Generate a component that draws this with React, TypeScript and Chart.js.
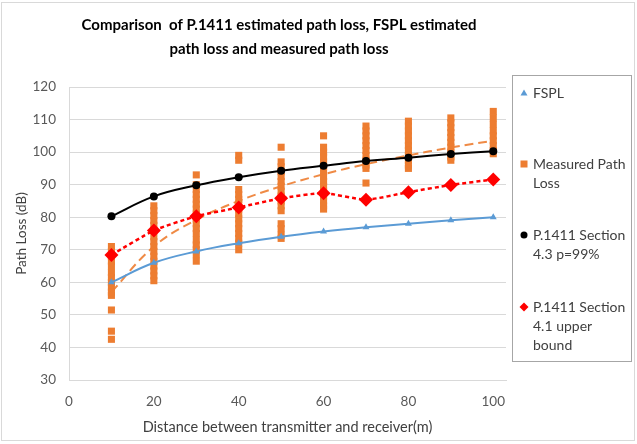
import React, { useEffect, useRef } from 'react';
import { Chart, registerables } from 'chart.js';

Chart.register(...registerables);

// ---------------- data ----------------
const distances = [10, 20, 30, 40, 50, 60, 70, 80, 90, 100];
const fsplLoss = [60, 66, 69.5, 72, 74, 75.6, 76.9, 78, 79.1, 80];
const p1411Sec43 = [80.3, 86.4, 89.8, 92.3, 94.3, 95.8, 97.3, 98.3, 99.4, 100.3];
const p1411Sec41 = [68.4, 75.9, 80.3, 83.0, 85.8, 87.4, 85.4, 87.7, 89.9, 91.6];
const measuredTrend = [57, 71, 79.2, 85, 89.5, 93.2, 96.3, 99, 101.4, 103.5];

const measuredAt10 = [71, 69.5, 68, 66.5, 65, 63, 61.5, 60, 58.5, 57, 56, 51.5, 45, 42.5];
const measuredAt20 = [83.5, 82, 80.5, 79, 77.5, 76, 74, 72.5, 71, 69.5, 68, 66.5, 65, 63.5, 62, 60.5];
const measuredAt30 = [93, 90, 88.5, 87, 85.5, 84, 82.5, 81, 79.5, 78, 76.5, 75, 73, 71.5, 70, 68.5, 66.5];
const measuredAt40 = [99, 97.5, 88.5, 87, 85.5, 84, 82.5, 81, 79.5, 78, 76.5, 75, 73.5, 72, 70];
const measuredAt50 = [101.5, 97, 95.5, 94, 92.5, 91, 89.5, 88, 86.5, 85, 83.5, 82, 78, 76.5, 74.5, 73.5];
const measuredAt60 = [105, 101.5, 100, 98.5, 97, 95.5, 94, 92.5, 91, 89.5, 88, 86.5, 85, 83.5, 82.5];
const measuredAt70 = [108, 106.5, 105, 103.5, 102, 100.5, 99, 97.5, 96, 95, 90.5];
const measuredAt80 = [109.5, 108, 106.5, 105, 103.5, 102, 100.5, 99, 97.5, 96, 95];
const measuredAt90 = [110.5, 109, 107.5, 106, 104.5, 103, 101.5, 100, 98.5, 97.5];
const measuredAt100 = [112.5, 110.5, 108.5, 106.5, 105, 103.5, 102, 100.5, 99.5];

const measuredColumns = [
  measuredAt10, measuredAt20, measuredAt30, measuredAt40, measuredAt50,
  measuredAt60, measuredAt70, measuredAt80, measuredAt90, measuredAt100,
];

const yTicksMin = 30;
const yTicksMax = 120;
const xTicksMin = 0;
const xTicksMax = 103;
const xTickValues = [0, 20, 40, 60, 80, 100];

const titleLines = ['Comparison  of P.1411 estimated path loss, FSPL estimated', 'path loss and measured path loss'];
const yTitle = 'Path Loss (dB)';
const xTitle = 'Distance between transmitter and receiver(m)';
const legendFspl = ['FSPL'];
const legendMeasured = ['Measured Path', 'Loss'];
const legendSec43 = ['P.1411 Section', '4.3 p=99%'];
const legendSec41 = ['P.1411 Section', '4.1 upper', 'bound'];

// ---------------- styles ----------------
const FONT = 'Lato, "Open Sans", sans-serif';
const BLUE = '#5B9BD5';
const ORANGE = '#ED7D31';
const RED = '#FF0000';
const GRID = '#D9D9D9';

const toXY = (ys: number[]) => ys.map((y, i) => ({ x: distances[i], y }));

const decorPlugin = {
  id: 'decor',
  afterDraw(chart: any) {
    const ctx = chart.ctx as CanvasRenderingContext2D;
    ctx.save();
    // chart border
    ctx.strokeStyle = GRID;
    ctx.lineWidth = 1;
    ctx.strokeRect(1.5, 2.5, 633, 438);

    // title
    ctx.fillStyle = '#000';
    ctx.font = `bold 15px ${FONT}`;
    ctx.textAlign = 'center';
    ctx.textBaseline = 'middle';
    ctx.fillText(titleLines[0], 279, 25);
    ctx.fillText(titleLines[1], 279, 49);

    // legend box
    ctx.strokeStyle = '#A6A6A6';
    ctx.strokeRect(512.5, 75.5, 119, 286);

    const mx = 524;
    const tx = 533;
    ctx.font = `14px ${FONT}`;
    ctx.textAlign = 'left';
    const lh = 19;
    const entry = (lines: string[], y: number, marker: (x: number, y: number) => void) => {
      marker(mx, y);
      ctx.fillStyle = '#404040';
      lines.forEach((t, i) => ctx.fillText(t, tx, y + i * lh));
    };
    entry(legendFspl, 93, (x, y) => {
      ctx.fillStyle = BLUE;
      ctx.beginPath();
      ctx.moveTo(x, y - 3.5);
      ctx.lineTo(x + 3.5, y + 2.5);
      ctx.lineTo(x - 3.5, y + 2.5);
      ctx.closePath();
      ctx.fill();
    });
    entry(legendMeasured, 164, (x, y) => {
      ctx.fillStyle = ORANGE;
      ctx.fillRect(x - 3.5, y - 3.5, 7, 7);
    });
    entry(legendSec43, 235, (x, y) => {
      ctx.fillStyle = '#000';
      ctx.beginPath();
      ctx.arc(x, y, 3.5, 0, Math.PI * 2);
      ctx.fill();
    });
    entry(legendSec41, 307, (x, y) => {
      ctx.fillStyle = RED;
      ctx.beginPath();
      ctx.moveTo(x, y - 4.5);
      ctx.lineTo(x + 4.5, y);
      ctx.lineTo(x, y + 4.5);
      ctx.lineTo(x - 4.5, y);
      ctx.closePath();
      ctx.fill();
    });
    ctx.restore();
  },
};

export default function App() {
  const ref = useRef<HTMLCanvasElement | null>(null);

  useEffect(() => {
    document.body.style.margin = '0';
    const canvas = ref.current;
    if (!canvas) return;

    const measuredPoints: { x: number; y: number }[] = [];
    measuredColumns.forEach((col, i) => col.forEach((y) => measuredPoints.push({ x: distances[i], y })));

    const chart = new Chart(canvas, {
      type: 'scatter',
      data: {
        datasets: [
          {
            label: 'P.1411 Section 4.1 upper bound',
            data: toXY(p1411Sec41),
            showLine: true,
            borderColor: RED,
            backgroundColor: RED,
            borderWidth: 2.5,
            borderDash: [4, 3],
            tension: 0.2,
            pointStyle: 'rectRot',
            pointRadius: 7,
            pointBorderWidth: 0,
            order: 1,
          },
          {
            label: 'P.1411 Section 4.3 p=99%',
            data: toXY(p1411Sec43),
            showLine: true,
            borderColor: '#000',
            backgroundColor: '#000',
            borderWidth: 2,
            tension: 0.4,
            pointStyle: 'circle',
            pointRadius: 4,
            pointBorderWidth: 0,
            order: 2,
          },
          {
            label: 'FSPL',
            data: toXY(fsplLoss),
            showLine: true,
            borderColor: BLUE,
            backgroundColor: BLUE,
            borderWidth: 2,
            tension: 0.4,
            pointStyle: 'triangle',
            pointRadius: 4,
            pointBorderWidth: 0,
            order: 3,
          },
          {
            label: 'Trend',
            data: toXY(measuredTrend),
            showLine: true,
            borderColor: 'rgba(237,125,49,0.9)',
            borderWidth: 2,
            borderDash: [9, 5],
            tension: 0.4,
            pointRadius: 0,
            order: 4,
          },
          {
            label: 'Measured Path Loss',
            data: measuredPoints,
            showLine: false,
            backgroundColor: ORANGE,
            borderColor: ORANGE,
            pointStyle: 'rect',
            pointRadius: 5,
            pointBorderWidth: 0,
            order: 5,
          },
        ] as any,
      },
      options: {
        animation: false,
        responsive: false,
        events: [],
        layout: { padding: { left: 0, right: 131, top: 87, bottom: 0 } },
        plugins: {
          legend: { display: false },
          title: { display: false },
          tooltip: { enabled: false },
        },
        scales: {
          x: {
            type: 'linear',
            min: xTicksMin,
            max: xTicksMax,
            afterFit: (s: any) => { s.height = 64; },
            afterBuildTicks: (s: any) => { s.ticks = xTickValues.map((v) => ({ value: v })); },
            ticks: {
              stepSize: 20,
              padding: 14,
              color: '#595959',
              font: { family: FONT, size: 13.5 },
            },
            grid: { display: false, drawTicks: false },
            border: { display: true, color: GRID, width: 1 },
            title: {
              display: true,
              text: xTitle,
              color: '#404040',
              font: { family: FONT, size: 14.5 },
              padding: { top: 0, bottom: 8 },
            },
          },
          y: {
            type: 'linear',
            min: yTicksMin,
            max: yTicksMax,
            afterFit: (s: any) => { s.width = 69; },
            ticks: {
              stepSize: 10,
              padding: 13,
              color: '#595959',
              font: { family: FONT, size: 13.5 },
            },
            grid: { display: true, color: GRID, lineWidth: 1, drawTicks: false },
            border: { display: true, color: GRID, width: 1 },
            title: {
              display: true,
              text: yTitle,
              color: '#404040',
              font: { family: FONT, size: 13.5 },
              padding: { top: 14, bottom: 0 },
            },
          },
        },
      } as any,
      plugins: [decorPlugin],
    });
    return () => chart.destroy();
  }, []);

  return (
    <div style={{ position: 'absolute', left: 0, top: 0, width: 637, height: 444, background: '#fff' }}>
      <canvas ref={ref} width={637} height={444} style={{ display: 'block' }} />
    </div>
  );
}
